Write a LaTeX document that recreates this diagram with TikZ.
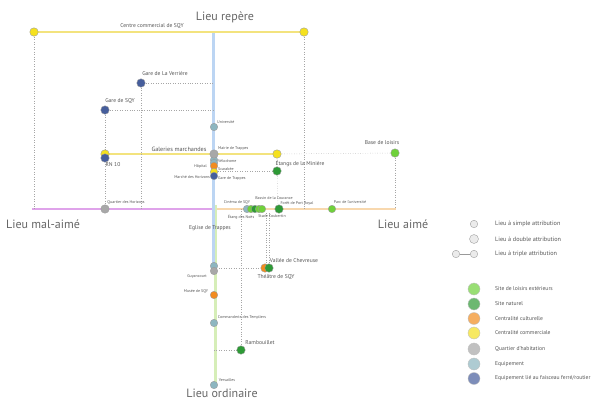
\documentclass[tikz,border=0pt]{standalone}
\usepackage{fontspec}
\setmainfont{PT Sans}
\definecolor{cLoisir}{HTML}{6FD13A}
\definecolor{cNat}{HTML}{2E9A36}
\definecolor{cCult}{HTML}{F28C1E}
\definecolor{cComm}{HTML}{F5E11E}
\definecolor{cQuart}{HTML}{A8A8A8}
\definecolor{cEquip}{HTML}{8DB6C0}
\definecolor{cFer}{HTML}{465E9C}
\definecolor{axBlue}{HTML}{BCD5F3}
\definecolor{axGreen}{HTML}{D6EEB8}
\definecolor{axPurple}{HTML}{DFA3EA}
\definecolor{axPeach}{HTML}{F8D8AE}
\definecolor{lnYellow}{HTML}{F3E37E}
\definecolor{txt}{HTML}{555555}
\tikzset{
  spot/.style={circle, inner sep=0pt, minimum size=8.5pt, draw=black!40, line width=0.35pt},
  small/.style={spot, minimum size=7.5pt},
  lg/.style={circle, inner sep=0pt, minimum size=12pt, draw=black!25, line width=0.35pt, fill opacity=0.7},
  lgw/.style={circle, inner sep=0pt, draw=black!40, line width=0.35pt, fill=black!8},
  lbl/.style={inner sep=0pt, text=txt, font=\fontsize{5.6}{6.5}\selectfont},
  tiny/.style={inner sep=0pt, text=txt, font=\fontsize{4}{5}\selectfont},
  big/.style={inner sep=0pt, text=black!60, font=\fontsize{12}{14}\selectfont},
  leg/.style={inner sep=0pt, anchor=west, text=txt, font=\fontsize{5.6}{6.5}\selectfont},
  lega/.style={leg, font=\fontsize{6.2}{7}\selectfont},
  dots/.style={black!35, dotted, line width=0.45pt},
}
\begin{document}
\begin{tikzpicture}[x=1pt,y=-1pt]
\fill[white] (0,0) rectangle (600,400);
\useasboundingbox (0,0) rectangle (600,400);

% axis coordinates
\coordinate (vTop) at (213.5,32);
\coordinate (vMid) at (213.5,270);
\coordinate (gTop) at (215.5,205);
\coordinate (gBot) at (215.5,385);
\coordinate (hL) at (32,209);
\coordinate (hC) at (214,209);
\coordinate (hR) at (396,209);

% axes
\draw[axPurple, line width=2.6pt] (hL) -- (hC);
\draw[axPeach, line width=2.6pt] (hC) -- (hR);
\draw[axGreen, line width=2.6pt] (gTop) -- (gBot);
\draw[axBlue, line width=3pt] (vTop) -- (vMid);

% big labels
\node[big] (tTop) at (225,17) {Lieu repère};
\node[big] (tLeft) at (43,224) {Lieu mal-aimé};
\node[big] (tRight) at (403,224) {Lieu aimé};
\node[big] (tBot) at (222,393) {Lieu ordinaire};

% helper coordinates
\coordinate (a34) at (34,209);
\coordinate (a304) at (304,209);
\coordinate (a141) at (141,209);
\coordinate (y83) at (214,83);
\coordinate (y110) at (214,110);
\coordinate (a395) at (395,209);
\coordinate (y171) at (214,171);
\coordinate (a241) at (241,209);
\coordinate (y350) at (214,350);
\coordinate (a266) at (266,213);
\coordinate (a269) at (269,213);
\coordinate (y268) at (214,268);

% yellow lines
\coordinate (ccLc) at (34,32);
\coordinate (ccRc) at (304,32);
\draw[lnYellow, line width=1.3pt] (ccLc) -- (ccRc);
\coordinate (galLc) at (105,154);
\coordinate (galRc) at (277,154);
\draw[lnYellow, line width=1.6pt] (galLc) -- (galRc);

% dotted connectors
\draw[dots] (ccLc) -- (a34);
\draw[dots] (ccRc) -- (a304);
\draw[dots] (141,83) -- (y83);
\draw[dots] (141,83) -- (a141);
\draw[dots] (105,110) -- (y110);
\draw[dots] (105,110) -- (105,209);
\draw[dots] (galRc) -- (395,153);
\draw[dots] (395,153) -- (a395);
\draw[dots] (galRc) -- (278,209);
\draw[dots] (277,171) -- (y171);
\draw[dots] (a241) -- (241,350);
\draw[dots] (y350) -- (241,350);
\draw[dots] (a266) -- (266,268);
\draw[dots] (a269) -- (269,268);
\draw[dots] (y268) -- (265,268);

% points
\node[spot, fill=cComm] (ccL) at (ccLc) {};
\node[spot, fill=cComm] (ccR) at (ccRc) {};
\node[lbl] (lcc) at (152,26.5) {Centre commercial de SQY};

\node[spot, fill=cFer] (gLV) at (141,83) {};
\node[lbl] (lgLV) at (165,74) {Gare de La Verrière};
\node[spot, fill=cFer] (gSQY) at (105,110) {};
\node[lbl] (lgSQY) at (120,101) {Gare de SQY};

\node[small, fill=cEquip] (univ) at (214,127) {};
\node[tiny, anchor=west] (luniv) at (217,122) {Université};

\node[spot, fill=cComm] (galL) at (galLc) {};
\node[spot, fill=cFer] (rn10) at (105,158) {};
\node[lbl] (lrn) at (113,165) {RN 10};
\node[lbl, font=\fontsize{6.2}{7}\selectfont] (lgal) at (179,149) {Galeries marchandes};
\node[spot, fill=cComm] (galR) at (galRc) {};

\node[small, fill=cEquip] (velo) at (214,160) {};
\node[small, fill=cEquip] (hop) at (214,163) {};
\node[small, fill=cCult] (scar) at (214,166) {};
\node[small, fill=cComm] (march) at (214,172) {};
\node[small, fill=cFer] (gTr) at (214,176) {};
\node[spot, fill=cQuart] (mairie) at (214,154) {};
\node[tiny, anchor=west] (lmairie) at (218,148.5) {Mairie de Trappes};
\node[tiny, anchor=west] (lvelo) at (218,161) {Vélodrome};
\node[tiny, anchor=east] (lhop) at (207,166) {Hôpital};
\node[tiny, anchor=west] (lscar) at (218,169) {Scarabée};
\node[tiny, anchor=east] (lmarch) at (210,177) {Marché des Horizons};
\node[tiny, anchor=west] (lgTr) at (218,178) {Gare de Trappes};

\node[spot, fill=cNat] (etangs) at (277,171) {};
\node[lbl] (letangs) at (300,164) {Étangs de la Minière};
\node[spot, fill=cLoisir] (base) at (395,153) {};
\node[lbl] (lbase) at (382,142.5) {Base de loisirs};

\node[spot, fill=cQuart] (qHor) at (105,209) {};
\node[tiny] (lqHor) at (126,202) {Quartier des Horizons};

\node[small, fill=cEquip] (cin) at (247,209) {};
\node[small, fill=cLoisir] (c2) at (251,209) {};
\node[small, fill=cNat] (noes) at (255,209) {};
\node[small, fill=cLoisir] (c4) at (259,209) {};
\node[small, fill=cLoisir] (stade) at (262,209) {};
\node[tiny] (lcin) at (237,202) {Cinéma de SQY};
\node[tiny] (lnoes) at (241,217) {Étang des Noës};
\node[tiny] (lbassin) at (274,198) {Bassin de la Courance};
\node[tiny] (lstade) at (272,216) {Stade Coubertin};
\node[spot, fill=cNat] (foret) at (279,209) {};
\node[tiny] (lforet) at (297,203) {Forêt de Port Royal};
\node[small, fill=cLoisir] (parc) at (332,209) {};
\node[tiny] (lparc) at (350,202) {Parc de l'université};

\node[lbl] (legl) at (210,228) {Eglise de Trappes};

\node[small, fill=cEquip] (guy1) at (214,266) {};
\node[small, fill=cQuart] (guy2) at (214,271) {};
\node[tiny] (lguy) at (197,276) {Guyancourt};

\node[spot, fill=cCult] (theatre) at (265,268) {};
\node[spot, fill=cNat] (vallee) at (269,268) {};
\node[lbl] (lvallee) at (294,261) {Vallée de Chevreuse};
\node[lbl] (ltheatre) at (276,277) {Théâtre de SQY};

\node[small, fill=cCult] (musee) at (214,295) {};
\node[tiny] (lmusee) at (196,291) {Musée de SQY};
\node[small, fill=cEquip] (comm) at (214,323) {};
\node[tiny] (lcomm) at (242,317) {Commanderie des Templiers};
\node[spot, fill=cNat] (ramb) at (241,350) {};
\node[lbl] (lramb) at (260,343) {Rambouillet};
\node[small, fill=cEquip] (vers) at (214,385) {};
\node[tiny] (lvers) at (227,380) {Versailles};

% legend: attribution
\node[lgw, minimum size=7.5pt] (la1) at (474,224) {};
\node[lega] (tla1) at (495,224) {Lieu à simple attribution};
\node[lgw, minimum size=9pt] (la2) at (474,239) {};
\node[lega] (tla2) at (495,239) {Lieu à double attribution};
\node[lgw, minimum size=7.5pt] (la3a) at (456,254) {};
\node[lgw, minimum size=7.5pt] (la3b) at (474,254) {};
\draw[black!40, line width=0.5pt] (la3a) -- (la3b);
\node[lega] (tla3) at (495,254) {Lieu à triple attribution};

% legend: categories
\node[lg, fill=cLoisir] (k1) at (474,289) {};
\node[leg] (tk1) at (495,289) {Site de loisirs extérieurs};
\node[lg, fill=cNat] (k2) at (474,304) {};
\node[leg] (tk2) at (495,304) {Site naturel};
\node[lg, fill=cCult] (k3) at (474,318.5) {};
\node[leg] (tk3) at (495,318.5) {Centralité culturelle};
\node[lg, fill=cComm] (k4) at (474,333) {};
\node[leg] (tk4) at (495,333) {Centralité commerciale};
\node[lg, fill=cQuart] (k5) at (474,349) {};
\node[leg] (tk5) at (495,349) {Quartier d'habitation};
\node[lg, fill=cEquip] (k6) at (474,364) {};
\node[leg] (tk6) at (495,364) {Equipement};
\node[lg, fill=cFer] (k7) at (474,378.5) {};
\node[leg] (tk7) at (495,378.5) {Equipement lié au faisceau ferré/routier};
\end{tikzpicture}
\end{document}
